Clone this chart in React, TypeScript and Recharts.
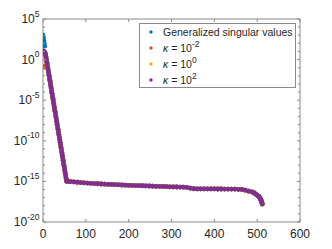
import React from "react"
import { ScatterChart, Scatter, XAxis, YAxis, Legend } from "recharts"

// series names and colours (MATLAB default order)
const seriesNames = ["Generalized singular values", "κ = 10^-2", "κ = 10^0", "κ = 10^2"]
const seriesColors = ["#0072BD", "#D95319", "#EDB120", "#7E2F8E"]

// kappa = 10^2, indices 0..56 (the steep part)
const purpleHead = [
  12, 11, 10, 9, 7.5, 6, 4, 2.2, 1.0, 0.48,
  0.23, 0.11, 0.054, 0.026, 0.012, 5.9e-3, 2.9e-3, 1.4e-3, 6.6e-4, 3.2e-4,
  1.5e-4, 7.4e-5, 3.5e-5, 1.7e-5, 8.1e-6, 3.9e-6, 1.9e-6, 9.1e-7, 4.4e-7, 2.1e-7,
  1.0e-7, 4.9e-8, 2.3e-8, 1.1e-8, 5.4e-9, 2.6e-9, 1.2e-9, 6.0e-10, 2.9e-10, 1.4e-10,
  6.6e-11, 3.2e-11, 1.5e-11, 7.4e-12, 3.5e-12, 1.7e-12, 8.1e-13, 4.0e-13, 1.9e-13, 9.1e-14,
  4.4e-14, 2.1e-14, 1.0e-14, 4.9e-15, 2.3e-15, 1.1e-15, 1.05e-15,
]

// the flat tail, shared by all four series
const tailIndex = [
  60, 64, 72, 80, 88, 96, 104, 112, 120, 128, 136, 144, 152, 160, 168, 176, 184, 192, 200,
  208, 216, 224, 232, 240, 248, 256, 264, 272, 280, 288, 296, 304, 312, 320, 328, 336, 344,
  352, 360, 368, 376, 384, 392, 400, 408, 416, 424, 432, 440, 448, 456, 464, 472, 480, 488,
  492, 496, 500, 503, 505, 507, 508, 509, 510, 511, 512,
]
const tailValue = [
  1.0e-15, 9.6e-16, 8.6e-16, 7.9e-16, 7.2e-16, 6.6e-16, 6.2e-16, 5.8e-16, 5.4e-16, 5.1e-16,
  4.8e-16, 4.6e-16, 4.4e-16, 4.2e-16, 4.0e-16, 3.8e-16, 3.6e-16, 3.4e-16, 3.3e-16,
  3.2e-16, 3.1e-16, 3.0e-16, 2.9e-16, 2.8e-16, 2.7e-16, 2.6e-16, 2.5e-16, 2.45e-16, 2.35e-16,
  2.25e-16, 2.15e-16, 2.1e-16, 2.05e-16, 2.0e-16, 1.95e-16, 1.8e-16, 1.45e-16,
  1.25e-16, 1.2e-16, 1.19e-16, 1.18e-16, 1.18e-16, 1.17e-16, 1.17e-16, 1.16e-16, 1.16e-16,
  1.15e-16, 1.15e-16, 1.14e-16, 1.12e-16, 1.07e-16, 1.0e-16, 8.3e-17, 6.3e-17, 5.0e-17,
  4.0e-17, 2.8e-17, 2.0e-17, 1.5e-17, 1.1e-17, 8.0e-18, 6.3e-18, 4.8e-18, 3.5e-18, 2.4e-18, 1.6e-18,
]

// where the other series differ from kappa = 10^2 (first indices)
const blueHead = [1000, 500, 220, 100, 45]
const orangeHead = [0.13, 0.13, 0.13, 0.13, 0.13, 0.13, 0.13, 0.13]
const yellowHead = [1.2, 1.2, 1.2]

const xTicks = [0, 100, 200, 300, 400, 500, 600]
const yTicks = [
  1e5, 1e4, 1e3, 1e2, 1e1, 1e0, 1e-1, 1e-2, 1e-3, 1e-4, 1e-5, 1e-6, 1e-7,
  1e-8, 1e-9, 1e-10, 1e-11, 1e-12, 1e-13, 1e-14, 1e-15, 1e-16, 1e-17, 1e-18, 1e-19, 1e-20,
]

const buildSeries = (head: number[]) => {
  const pts: { x: number; y: number }[] = []
  head.forEach((v, i) => pts.push({ x: i, y: v }))
  purpleHead.forEach((v, i) => {
    if (i >= head.length) pts.push({ x: i, y: v })
  })
  tailIndex.forEach((ix, i) => pts.push({ x: ix, y: tailValue[i] }))
  return pts
}

const seriesData = [buildSeries(blueHead), buildSeries(orangeHead), buildSeries(yellowHead), buildSeries([])]

const AXIS = "#8a8a8a"
const TXT = "#262626"

const expOf = (v: number) => Math.round(Math.log10(v))

const BottomTick = (props: any) => {
  const { x, y, payload } = props
  return (
    <g>
      <line x1={x} y1={y} x2={x} y2={y - 3} stroke={AXIS} />
      <text x={x} y={y + 15.5} textAnchor="middle" fontSize={12} fill={TXT}>
        {payload.value}
      </text>
    </g>
  )
}

const TopTick = (props: any) => {
  const { x, y } = props
  return <line x1={x} y1={y} x2={x} y2={y + 3} stroke={AXIS} />
}

const LeftTick = (props: any) => {
  const { x, y, payload } = props
  const e = expOf(payload.value)
  const major = e % 5 === 0
  return (
    <g>
      <line x1={x} y1={y} x2={x + (major ? 3 : 2)} y2={y} stroke={AXIS} />
      {major && (
        <text x={x - 3.5} y={y + 4} textAnchor="end" fontSize={12} fill={TXT}>
          <tspan>10</tspan>
          <tspan dy={-6.5} fontSize={8.5}>{e}</tspan>
        </text>
      )}
    </g>
  )
}

const RightTick = (props: any) => {
  const { x, y, payload } = props
  const major = expOf(payload.value) % 5 === 0
  return <line x1={x} y1={y} x2={x - (major ? 3 : 2)} y2={y} stroke={AXIS} />
}

const renderLabel = (name: string) => {
  if (!name.includes("^")) return name
  const [base, sup] = name.split("^")
  const [k, rest] = [base.slice(0, 1), base.slice(1)]
  return (
    <>
      <i>{k}</i>
      {rest}
      <sup style={{ fontSize: 8.5, verticalAlign: "5px", lineHeight: 0 }}>{sup}</sup>
    </>
  )
}

const renderLegend = (props: any) => {
  const { payload } = props
  return (
    <div
      style={{
        border: `1px solid ${AXIS}`,
        background: "#fff",
        width: 157,
        height: 65,
        boxSizing: "border-box",
      }}
    >
      {(payload || []).map((entry: any, i: number) => (
        <div
          key={`leg-${i}`}
          style={{ height: 16, display: "flex", alignItems: "center", fontSize: 10.5, color: TXT, whiteSpace: "nowrap" }}
        >
          <svg width={23} height={16} style={{ flex: "none" }}>
            <circle cx={11} cy={8} r={1.7} fill={entry.color} />
          </svg>
          <span>{renderLabel(entry.value)}</span>
        </div>
      ))}
    </div>
  )
}

export default function App() {
  return (
    <div style={{ position: "absolute", left: 0, top: 0, background: "#fff", fontFamily: "'Liberation Sans', Arial, sans-serif" }}>
      <ScatterChart width={332} height={249} margin={{ top: 18, right: 31, bottom: 26, left: 42 }}>
        <XAxis
          dataKey="x"
          type="number"
          domain={[0, 600]}
          ticks={xTicks}
          interval={0}
          height={1}
          tickSize={0}
          tickMargin={0}
          tickLine={false}
          axisLine={{ stroke: AXIS }}
          tick={<BottomTick />}
          allowDataOverflow
        />
        <XAxis
          xAxisId="top"
          orientation="top"
          dataKey="x"
          type="number"
          domain={[0, 600]}
          ticks={xTicks}
          interval={0}
          height={1}
          tickSize={0}
          tickMargin={0}
          tickLine={false}
          axisLine={{ stroke: AXIS }}
          tick={<TopTick />}
          allowDataOverflow
        />
        <YAxis
          dataKey="y"
          type="number"
          scale="log"
          domain={[1e-20, 1e5]}
          ticks={yTicks}
          interval={0}
          width={1}
          tickSize={0}
          tickMargin={0}
          tickLine={false}
          axisLine={{ stroke: AXIS }}
          tick={<LeftTick />}
          allowDataOverflow
        />
        <YAxis
          yAxisId="right"
          orientation="right"
          dataKey="y"
          type="number"
          scale="log"
          domain={[1e-20, 1e5]}
          ticks={yTicks}
          interval={0}
          width={1}
          tickSize={0}
          tickMargin={0}
          tickLine={false}
          axisLine={{ stroke: AXIS }}
          tick={<RightTick />}
          allowDataOverflow
        />
        <Legend
          layout="vertical"
          align="center"
          verticalAlign="middle"
          content={renderLegend}
          wrapperStyle={{ left: 139, top: 23, width: 157, height: 65 }}
        />
        {seriesData.map((d, i) => (
          <Scatter
            key={`s-${i}`}
            name={seriesNames[i]}
            data={d}
            fill={seriesColors[i]}
            isAnimationActive={false}
            shape={(p: any) => <circle cx={p.cx} cy={p.cy} r={2.4} fill={seriesColors[i]} />}
          />
        ))}
      </ScatterChart>
    </div>
  )
}
